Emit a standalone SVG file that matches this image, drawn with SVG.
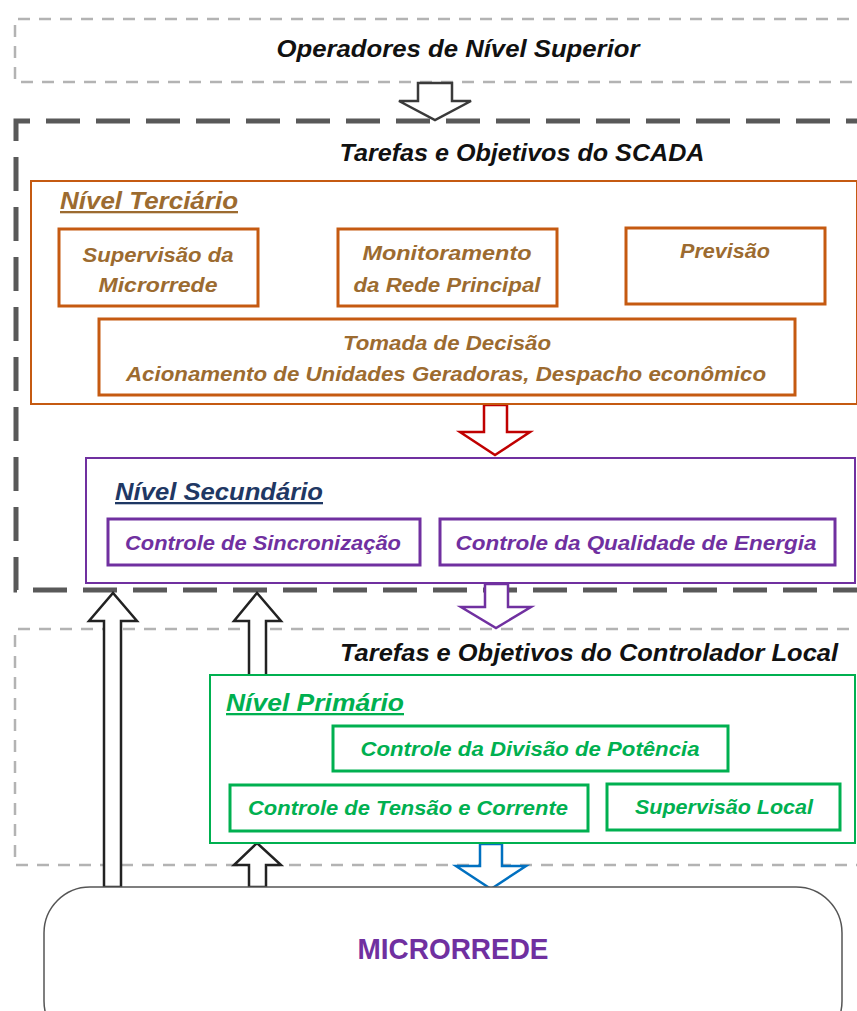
<svg xmlns="http://www.w3.org/2000/svg" width="857" height="1011" viewBox="0 0 857 1011">
  <defs>
    <style>
      .t { font-family: "Liberation Sans", Arial, sans-serif; font-weight: bold; font-style: italic; text-anchor: middle; }
      .head { font-size: 23px; fill: #111; }
      .ter { font-size: 21px; fill: #9C6B30; }
      .sec { font-size: 21px; fill: #7030A0; }
      .pri { font-size: 21px; fill: #00B050; }
      .lvl { font-size: 23px; text-anchor: start; text-decoration: underline; }
      .zone-light { fill: none; stroke: #b3b3b3; stroke-width: 2.5; stroke-dasharray: 12 9; }
      .zone-dark { fill: none; stroke: #595959; stroke-width: 5; stroke-dasharray: 34 16; }
      .box-ter { fill: #fff; stroke: #C55A11; }
      .box-sec { fill: #fff; stroke: #7030A0; }
      .box-pri { fill: #fff; stroke: #00B050; }
      .arrow { fill: #fff; stroke-width: 2.5; stroke-linejoin: miter; }
    </style>
  </defs>

  <rect width="857" height="1011" fill="#fff"/>

  <!-- zone frames -->
  <g id="zones">
    <path class="zone-light" d="M870 19 H15 V82 H870"/>
    <path class="zone-dark" d="M880 121 H16 V590 H880"/>
    <path class="zone-light" d="M870 629 H15 V865 H870"/>
  </g>

  <g id="zone-labels">
    <text class="t head" x="458" y="57" textLength="363" lengthAdjust="spacingAndGlyphs">Operadores de Nível Superior</text>
    <text class="t head" x="522" y="161" textLength="365" lengthAdjust="spacingAndGlyphs">Tarefas e Objetivos do SCADA</text>
    <text class="t head" x="589" y="661" textLength="498" lengthAdjust="spacingAndGlyphs">Tarefas e Objetivos do Controlador Local</text>
  </g>

  <!-- connectors: hollow block arrows -->
  <g id="connectors">
    <path class="arrow" stroke="#3a3a3a" d="M418 83 H452 V101 H471 L435 120 L399 101 H418 Z"/>
    <path class="arrow" stroke="#C00000" d="M484 405 H507 V432 H530 L495 455 L460 432 H484 Z"/>
    <path class="arrow" stroke="#7030A0" d="M485 584 H508 V607 H531 L496 628 L461 607 H485 Z"/>
    <path class="arrow" stroke="#0070C0" d="M480 844 H502 V866 H526 L491 889 L456 866 H480 Z"/>
    <path class="arrow" stroke="#222" d="M104 887 V621 H89 L113 593 L137 621 H121 V887 Z"/>
    <path class="arrow" stroke="#222" d="M249 676 V621 H234 L257 593 L281 621 H266 V676"/>
    <path class="arrow" stroke="#222" d="M249 887 V865 H234 L257 843 L281 865 H266 V887 Z"/>
  </g>

  <!-- tertiary level -->
  <g id="nivel-terciario">
    <rect class="box-ter" x="31" y="181" width="826" height="223" stroke-width="2"/>
    <text class="t ter lvl" x="60" y="209" textLength="178" lengthAdjust="spacingAndGlyphs">Nível Terciário</text>
  </g>
  <g id="supervisao-microrrede">
    <rect class="box-ter" x="59" y="229" width="199" height="77" stroke-width="3"/>
    <text class="t ter" x="158" y="262" textLength="151" lengthAdjust="spacingAndGlyphs">Supervisão da</text>
    <text class="t ter" x="158" y="292" textLength="119" lengthAdjust="spacingAndGlyphs">Microrrede</text>
  </g>
  <g id="monitoramento">
    <rect class="box-ter" x="338" y="229" width="219" height="77" stroke-width="3"/>
    <text class="t ter" x="447" y="260" textLength="169" lengthAdjust="spacingAndGlyphs">Monitoramento</text>
    <text class="t ter" x="447" y="292" textLength="187" lengthAdjust="spacingAndGlyphs">da Rede Principal</text>
  </g>
  <g id="previsao">
    <rect class="box-ter" x="626" y="228" width="199" height="76" stroke-width="3"/>
    <text class="t ter" x="725" y="258" textLength="90" lengthAdjust="spacingAndGlyphs">Previsão</text>
  </g>
  <g id="tomada-decisao">
    <rect class="box-ter" x="99" y="319" width="696" height="76" stroke-width="3"/>
    <text class="t ter" x="447" y="350" textLength="208" lengthAdjust="spacingAndGlyphs">Tomada de Decisão</text>
    <text class="t ter" x="446" y="381" textLength="640" lengthAdjust="spacingAndGlyphs">Acionamento de Unidades Geradoras, Despacho econômico</text>
  </g>

  <!-- secondary level -->
  <g id="nivel-secundario">
    <rect class="box-sec" x="86" y="458" width="769" height="125" stroke-width="2"/>
    <text class="t lvl" x="115" y="500" fill="#1F3864" textLength="208" lengthAdjust="spacingAndGlyphs">Nível Secundário</text>
  </g>
  <g id="sincronizacao">
    <rect class="box-sec" x="108" y="519" width="312" height="46" stroke-width="3"/>
    <text class="t sec" x="263" y="550" textLength="276" lengthAdjust="spacingAndGlyphs">Controle de Sincronização</text>
  </g>
  <g id="qualidade-energia">
    <rect class="box-sec" x="440" y="519" width="395" height="46" stroke-width="3"/>
    <text class="t sec" x="636" y="550" textLength="361" lengthAdjust="spacingAndGlyphs">Controle da Qualidade de Energia</text>
  </g>

  <!-- primary level -->
  <g id="nivel-primario">
    <rect class="box-pri" x="210" y="675" width="645" height="168" stroke-width="2"/>
    <text class="t pri lvl" x="226" y="711" textLength="178" lengthAdjust="spacingAndGlyphs">Nível Primário</text>
  </g>
  <g id="divisao-potencia">
    <rect class="box-pri" x="333" y="726" width="395" height="45" stroke-width="3"/>
    <text class="t pri" x="530" y="756" textLength="339" lengthAdjust="spacingAndGlyphs">Controle da Divisão de Potência</text>
  </g>
  <g id="tensao-corrente">
    <rect class="box-pri" x="230" y="785" width="358" height="46" stroke-width="3"/>
    <text class="t pri" x="408" y="815" textLength="320" lengthAdjust="spacingAndGlyphs">Controle de Tensão e Corrente</text>
  </g>
  <g id="supervisao-local">
    <rect class="box-pri" x="607" y="784" width="233" height="46" stroke-width="3"/>
    <text class="t pri" x="724" y="814" textLength="178" lengthAdjust="spacingAndGlyphs">Supervisão Local</text>
  </g>

  <!-- microgrid -->
  <g id="microrrede">
    <rect x="44" y="887" width="798" height="160" rx="46" ry="46" fill="#fff" stroke="#555" stroke-width="1.5"/>
    <text x="453" y="959" font-family="Liberation Sans, Arial, sans-serif" font-weight="bold" font-size="30" fill="#7030A0" text-anchor="middle" textLength="191" lengthAdjust="spacingAndGlyphs">MICRORREDE</text>
  </g>
</svg>
